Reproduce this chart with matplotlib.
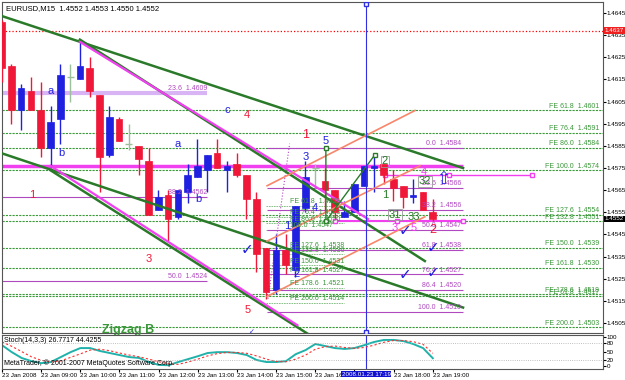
"""EURUSD M15, 23 Jan 2008 - recreación del gráfico MetaTrader con ondas y niveles FE."""

import matplotlib.pyplot as plt
import matplotlib.transforms as mtrans
import numpy as np

plt.rcParams["font.family"] = ["Liberation Sans", "DejaVu Sans"]

ROJO, AZUL, DOJI = "#f01838", "#2020e0", "#9cc09c"
VERDE, VERDE_FE, MAGENTA = "#2a7a2a", "#3a983a", "#f040f0"
LILA, VIOLETA, NARANJA = "#d8b4f4", "#b048c0", "#f8866a"

# velas M15 del 23 ene 2008, 08:00 .. 19:00
opens = [1.4641, 1.4621, 1.4601, 1.4610, 1.4601, 1.4584, 1.4597, 1.4616, 1.4615, 1.4620,
         1.4608, 1.4581, 1.4597, 1.4586, 1.4585, 1.4578, 1.4556, 1.4563, 1.4553, 1.4564,
         1.4571, 1.4574, 1.4582, 1.4574, 1.4577, 1.4572, 1.4561, 1.4539, 1.4520, 1.4538,
         1.4529, 1.4557, 1.4575, 1.4569, 1.4565, 1.4553, 1.4555, 1.4567, 1.4575, 1.4577,
         1.4570, 1.4567, 1.4562, 1.4564, 1.4555]
highs = [1.4642, 1.4622, 1.4613, 1.4616, 1.4614, 1.4603, 1.4622, 1.4622, 1.4633, 1.4625,
         1.4608, 1.4603, 1.4598, 1.4595, 1.4585, 1.4584, 1.4565, 1.4565, 1.4565, 1.4577,
         1.4588, 1.4581, 1.4588, 1.4578, 1.4582, 1.4572, 1.4564, 1.4539, 1.4545, 1.4545,
         1.4558, 1.4578, 1.4577, 1.4575, 1.4565, 1.4560, 1.4568, 1.4576, 1.4580, 1.4577,
         1.4574, 1.4567, 1.4570, 1.4564, 1.4561]
lows = [1.4614, 1.4595, 1.4592, 1.4601, 1.4580, 1.4575, 1.4586, 1.4605, 1.4615, 1.4607,
        1.4564, 1.4580, 1.4587, 1.4583, 1.4572, 1.4554, 1.4556, 1.4542, 1.4552, 1.4559,
        1.4571, 1.4564, 1.4575, 1.4564, 1.4571, 1.4552, 1.4528, 1.4516, 1.4518, 1.4527,
        1.4526, 1.4555, 1.4566, 1.4555, 1.4552, 1.4553, 1.4555, 1.4567, 1.4564, 1.4568,
        1.4560, 1.4557, 1.4559, 1.4556, 1.4551]
closes = [1.4620, 1.4601, 1.4611, 1.4601, 1.4584, 1.4596, 1.4617, 1.4616, 1.4621, 1.4610,
          1.4580, 1.4598, 1.4587, 1.4586, 1.4579, 1.4554, 1.4562, 1.4552, 1.4565, 1.4572,
          1.4576, 1.4581, 1.4575, 1.4576, 1.4572, 1.4561, 1.4536, 1.4519, 1.4538, 1.4531,
          1.4558, 1.4571, 1.4575, 1.4565, 1.4555, 1.4555, 1.4568, 1.4576, 1.4576, 1.4572,
          1.4566, 1.4562, 1.4563, 1.4556, 1.4552]

# Stoch(14,3,3): principal y señal
stoch_main = [72, 48, 28, 17, 10, 14, 31, 48, 62, 62, 52, 45, 38, 31, 28, 14, 4, 3, 14, 24,
              34, 45, 48, 48, 45, 38, 21, 14, 14, 17, 41, 55, 76, 69, 62, 59, 62, 72, 83, 90,
              90, 86, 76, 62, 27]
stoch_signal = [83, 68, 50, 32, 20, 14, 18, 30, 42, 55, 58, 53, 45, 38, 32, 24, 15, 8, 6, 14,
                24, 35, 43, 47, 47, 44, 35, 24, 16, 15, 24, 38, 58, 67, 69, 64, 61, 64, 72, 82,
                88, 88, 84, 75, 44]

hour_bars = [0, 4, 8, 12, 16, 20, 24, 28, 32, 36, 40, 44]
hour_labels = ["23 Jan 2008", "23 Jan 09:00", "23 Jan 10:00", "23 Jan 11:00", "23 Jan 12:00",
               "23 Jan 13:00", "23 Jan 14:00", "23 Jan 15:00", "23 Jan 16:00", "",
               "23 Jan 18:00", "23 Jan 19:00"]

# niveles FE (todo el ancho)
fe_names = ["FE 61.8", "FE 76.4", "FE 86.0", "FE 100.0", "FE 127.6", "FE 132.8",
            "FE 150.0", "FE 161.8", "FE 178.6", "FE 61.8", "FE 200.0"]
fe_prices = [1.4601, 1.4591, 1.4584, 1.4574, 1.4554, 1.4551, 1.4539, 1.4530, 1.4518,
             1.4517, 1.4503]
# niveles FE cortos del medio
fe_mid_names = ["FE 61.8", "FE 76.4", "FE 86.0", "100.0", "FE 127.6", "FE 132.8",
                "FE 150.0", "FE 161.8", "FE 178.6", "FE 200.0"]
fe_mid_prices = [1.4558, 1.4553, 1.4550, 1.4547, 1.4538, 1.4536, 1.4531, 1.4527,
                 1.4521, 1.4514]
# retroceso de la izquierda y de la derecha
fib_left_names = ["23.6", "38.2", "50.0"]
fib_left_prices = [1.4609, 1.4562, 1.4524]
fib_right_names = ["0.0", "23.6", "38.2", "50.0", "61.8", "76.4", "86.4", "100.0"]
fib_right_prices = [1.4584, 1.4566, 1.4556, 1.4547, 1.4538, 1.4527, 1.4520, 1.4510]

# líneas de tendencia: (barra, precio) inicio y fin
green_lines = [((-0.2, 1.4644), (47.1, 1.4575)),
               ((8.0, 1.4633), (43.2, 1.4533)),
               ((-0.2, 1.4582), (47.1, 1.4512)),
               ((5.0, 1.4574), (31.3, 1.4500))]
magenta_lines = [((8.0, 1.4632), (37.4, 1.4552)),
                 ((5.0, 1.4576), (30.2, 1.4504))]
orange_lines = [((27.1, 1.4567), (42.2, 1.4601)),
                ((27.1, 1.4542), (42.7, 1.4576)),
                ((27.1, 1.4517), (43.2, 1.4553))]
zigzag_bars = [33.1, 33.1, 38.1]
zigzag_prices = [1.4584, 1.4551, 1.4581]

# etiquetas de ondas: (barra, precio, texto, color, tamaño)
waves = [(5.05, 1.4610, "a", AZUL, 8), (6.07, 1.4582, "b", AZUL, 8),
         (23.0, 1.4601, "c", AZUL, 8), (25.05, 1.4599, "4", ROJO, 8),
         (18.0, 1.4586, "a", AZUL, 8), (20.05, 1.4561, "b", AZUL, 8),
         (3.1, 1.4563, "1", ROJO, 8), (15.05, 1.4534, "3", ROJO, 8),
         (25.15, 1.4511, "5", ROJO, 8), (31.07, 1.4590, "1", ROJO, 9),
         (33.1, 1.4587, "5", AZUL, 8), (31.07, 1.4580, "3", AZUL, 8),
         (29.13, 1.4549, "1", AZUL, 8), (30.15, 1.4527, "2", AZUL, 8),
         (31.99, 1.4557, "4", AZUL, 8), (39.13, 1.4563, "1", VERDE, 8),
         (40.15, 1.4548, "3", MAGENTA, 8), (42.1, 1.4548, "5", MAGENTA, 8),
         (44.03, 1.4547, "2", ROJO, 9), (43.11, 1.4573, "4", MAGENTA, 8),
         (42.1, 1.4553, "33", VERDE, 8)]
boxed = [(39.13, 1.4578, "2"), (40.15, 1.4554, "31"), (43.2, 1.4569, "32")]
checks_bars = [25.05, 41.17, 41.17, 44.03, 44.03]
checks_prices = [1.4538, 1.4547, 1.4527, 1.4539, 1.4528]

x = np.arange(len(opens))
o, h, l, c = (np.array(v) for v in (opens, highs, lows, closes))
XMIN, XMAX = 0.05, 61.38
TICK_FS = 4.5

fig = plt.figure(figsize=(6.25, 3.8), dpi=100)
ax = fig.add_axes([2 / 625, 1 - 333 / 380, 601 / 625, 331 / 380])
st = fig.add_axes([2 / 625, 1 - 369 / 380, 601 / 625, 34 / 380])

# horizontales
ax.axhline(1.4637, color="red", ls=":", lw=0.9, zorder=1)
for p in fe_prices:
    ax.axhline(p, color=VERDE_FE, ls=(0, (2, 1)), lw=0.8, zorder=1)
for n, p in zip(fe_names, fe_prices):
    ax.text(61.0, p + 0.00003, f"{n}  {p:.4f}", color=VERDE_FE, fontsize=5,
            ha="right", va="bottom", zorder=5)
for n, p in zip(fe_mid_names, fe_mid_prices):
    ax.hlines(p, 27.0, 35.0, color=VERDE_FE, ls=(0, (2, 1)), lw=0.6, alpha=0.7, zorder=1)
    ax.text(29.4, p + 0.00003, f"{n}  {p:.4f}", color=VERDE_FE, fontsize=5,
            va="bottom", zorder=5)
ax.hlines(fib_left_prices[0], -1, 21, color=LILA, lw=3, zorder=1)
ax.hlines(fib_left_prices[1:], -1, 21, color=VIOLETA, lw=0.8, zorder=1)
for n, p in zip(fib_left_names, fib_left_prices):
    ax.text(21, p + 0.00003, f"{n}  {p:.4f}", color=VIOLETA, fontsize=5,
            ha="right", va="bottom", zorder=5)
ax.hlines(fib_right_prices, 27.1, 47.1, color=VIOLETA, lw=0.8, zorder=1)
for n, p in zip(fib_right_names, fib_right_prices):
    ax.text(46.9, p + 0.00003, f"{n}  {p:.4f}", color=VIOLETA, fontsize=5,
            ha="right", va="bottom", zorder=5)
ax.plot([27.2, 29.4], [1.4516, 1.4586], color=VIOLETA, ls=":", lw=0.8, zorder=1)
ax.hlines(1.4576, -1, 47.1, color=MAGENTA, lw=2.5, zorder=2)
ax.plot([39.1, 45.7, 54.1], [1.4572] * 3, color=MAGENTA, lw=1, marker="s", ms=3,
        mfc="white", zorder=2)
ax.plot([34.0, 40.4, 47.1], [1.4551] * 3, color=MAGENTA, lw=1.5, marker="s", ms=3,
        mfc="white", zorder=2)

# velas
up, dn, dj = c > o, c < o, c == o
col = np.where(up, AZUL, np.where(dn, ROJO, DOJI))
ax.vlines(x, l, h, colors=col, lw=1, zorder=3)
ax.bar(x[~dj], np.abs(c - o)[~dj], bottom=np.minimum(o, c)[~dj], width=0.66,
       color=col[~dj], edgecolor=col[~dj], lw=0.5, zorder=3)
ax.hlines(c[dj], x[dj] - 0.35, x[dj] + 0.35, colors=DOJI, lw=1, zorder=3)

# tendencias
for (x0, y0), (x1, y1) in green_lines:
    ax.plot([x0, x1], [y0, y1], color=VERDE, lw=1.8, zorder=4)
for (x0, y0), (x1, y1) in magenta_lines:
    ax.plot([x0, x1], [y0, y1], color=MAGENTA, lw=1.6, zorder=4)
for (x0, y0), (x1, y1) in orange_lines:
    ax.plot([x0, x1], [y0, y1], color=NARANJA, lw=1.2, zorder=4)
ax.plot(zigzag_bars, zigzag_prices, color=VERDE, lw=1, marker="s", ms=3, mfc="white", zorder=4)

# cursor
ax.axvline(37.2, color="#3030e0", lw=0.8, zorder=4)
st.axvline(37.2, color="#3030e0", lw=0.8)
ax.plot([37.2, 37.2], [1.4649, 1.4501], ls="none", marker="s", ms=3, mfc="white",
        mec="#3030e0", zorder=5)

# textos
for b, p, s, cl, fs in waves:
    ax.text(b, p, s, color=cl, fontsize=fs, ha="center", va="center", zorder=6)
for b, p, s in boxed:
    ax.text(b, p, s, color=VERDE, fontsize=8, ha="center", va="center", zorder=6,
            bbox=dict(facecolor="none", edgecolor="#999999", lw=0.6, pad=0.5))
for b, p in zip(checks_bars, checks_prices):
    ax.text(b, p, "\u2713", color=AZUL, fontsize=11, ha="center", va="center",
            family="DejaVu Sans", zorder=6)
ax.text(25.6, 1.4501, "\u2713", color=AZUL, fontsize=5, ha="center", va="center",
        family="DejaVu Sans", zorder=6)
ax.text(45.05, 1.4570, "\u21e7", color=AZUL, fontsize=12, ha="center", va="center",
        family="DejaVu Sans", zorder=6)
ax.text(12.9, 1.4502, "Zigzag B", color=VERDE_FE, fontsize=9, ha="center", va="center",
        fontweight="bold", zorder=6)
ax.text(0.006, 0.99, "EURUSD,M15  1.4552 1.4553 1.4550 1.4552", transform=ax.transAxes,
        fontsize=5.5, va="top")

ax.set_xlim(XMIN, XMAX)
ax.set_ylim(1.45005, 1.4650)
ax.set_xticks([])
ax.yaxis.tick_right()
ax.set_yticks(np.arange(1.4505, 1.46451, 0.001))
ax.yaxis.set_major_formatter(plt.FormatStrFormatter("%.4f"))
ax.tick_params(axis="y", labelsize=TICK_FS, length=2, pad=0.8)
yt = mtrans.blended_transform_factory(ax.transAxes, ax.transData)
ax.text(1.003, 1.4637, "1.4637", transform=yt, fontsize=TICK_FS, color="white", va="center",
        bbox=dict(facecolor="#f02020", edgecolor="none", pad=0.6), zorder=7, clip_on=False)
ax.text(1.003, 1.4552, "1.4552", transform=yt, fontsize=TICK_FS, color="white", va="center",
        bbox=dict(facecolor="black", edgecolor="none", pad=0.6), zorder=7, clip_on=False)

# estocástico
st.plot(x, stoch_main, color="#20b2aa", lw=1.4)
st.plot(x, stoch_signal, color="#ff3030", lw=0.8, ls=(0, (2, 2)))
st.axhline(80, color="#aaaaaa", ls=":", lw=0.6)
st.axhline(20, color="#aaaaaa", ls=":", lw=0.6)
st.set_xlim(XMIN, XMAX)
st.set_ylim(-10, 107)
st.yaxis.tick_right()
st.set_yticks([0, 20, 50, 80, 100])
st.tick_params(axis="y", labelsize=TICK_FS, length=2, pad=0.8)
st.set_xticks(hour_bars)
st.set_xticklabels(hour_labels, fontsize=TICK_FS, ha="left")
st.tick_params(axis="x", length=2, pad=1)
st.text(0.004, 0.95, "Stoch(14,3,3) 26.7717 44.4255", transform=st.transAxes,
        fontsize=5, va="top")
st.text(0.004, 0.05, "MetaTrader, \u00a9 2001-2007 MetaQuotes Software Corp.",
        transform=st.transAxes, fontsize=5, va="bottom")
xt = mtrans.blended_transform_factory(st.transData, st.transAxes)
st.text(37.2, -0.08, "2008.01.23 17:19", transform=xt, fontsize=TICK_FS, color="white",
        ha="center", va="top", bbox=dict(facecolor="#1010d0", edgecolor="none", pad=0.5),
        clip_on=False)

for a in (ax, st):
    for s in a.spines.values():
        s.set_linewidth(0.8)
        s.set_color("#555555")

fig.savefig("out.png", dpi=100)
